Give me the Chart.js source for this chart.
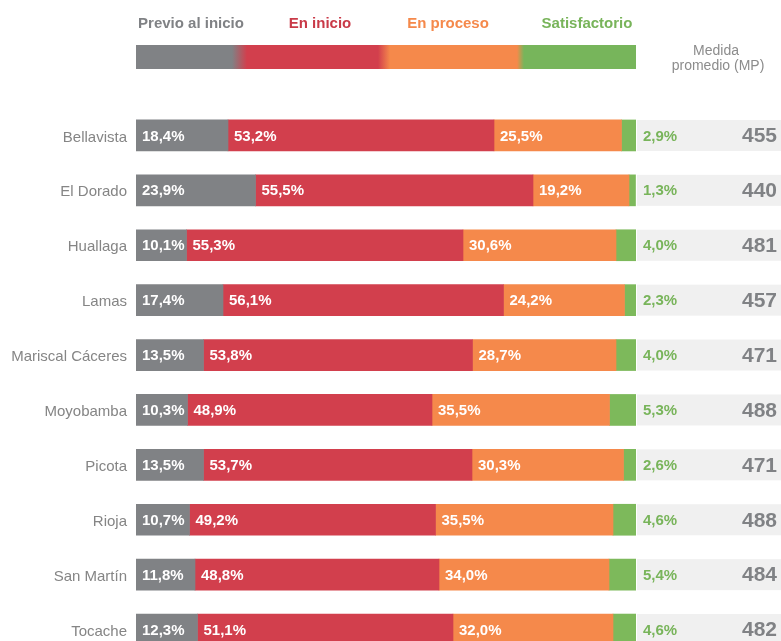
<!DOCTYPE html>
<html>
<head>
<meta charset="utf-8">
<script src="https://cdn.jsdelivr.net/npm/chart.js@4"></script>
<style>
  html, body { margin: 0; padding: 0; background: #fff; overflow: hidden; }
  #wrap { width: 781px; height: 675px; }
</style>
</head>
<body>
<div id="wrap"><canvas id="chart" width="781" height="675"></canvas></div>
<script>
document.addEventListener('DOMContentLoaded', () => {
    const categories = ['Bellavista', 'El Dorado', 'Huallaga', 'Lamas', 'Mariscal Cáceres',
                        'Moyobamba', 'Picota', 'Rioja', 'San Martín', 'Tocache'];
    const previo = [18.4, 23.9, 10.1, 17.4, 13.5, 10.3, 13.5, 10.7, 11.8, 12.3];
    const enInicio = [53.2, 55.5, 55.3, 56.1, 53.8, 48.9, 53.7, 49.2, 48.8, 51.1];
    const enProceso = [25.5, 19.2, 30.6, 24.2, 28.7, 35.5, 30.3, 35.5, 34.0, 32.0];
    const satisfactorio = [2.9, 1.3, 4.0, 2.3, 4.0, 5.3, 2.6, 4.6, 5.4, 4.6];
    const medidaPromedio = [455, 440, 481, 457, 471, 488, 471, 488, 484, 482];

    const seriesNames = ['Previo al inicio', 'En inicio', 'En proceso', 'Satisfactorio'];
    const seriesColors = ['#808285', '#d23f4d', '#f5894b', '#7db95b'];
    const legendColors = ['#808285', '#c93a48', '#f5894b', '#78b45a'];

    const FONT = '"Liberation Sans", Arial, Helvetica, sans-serif';

    const fmt = v => v.toFixed(1).replace('.', ',') + '%';

    const overlay = {
        id: 'overlay',
        beforeDatasetsDraw(chart) {
            const { ctx, scales: { x } } = chart;
            const x0 = x.getPixelForValue(100) + 1;
            ctx.save();
            ctx.fillStyle = '#f0f0f0';
            chart.getDatasetMeta(0).data.forEach(bar => {
                const p = bar.getProps(['y', 'height'], true);
                ctx.fillRect(x0, p.y - p.height / 2, chart.width - x0, p.height);
            });
            ctx.restore();
        },
        afterDatasetsDraw(chart) {
            const { ctx, scales: { x } } = chart;
            ctx.save();
            ctx.textBaseline = 'middle';
            // white labels inside the first three segments
            ctx.fillStyle = '#fff';
            ctx.font = 'bold 15px ' + FONT;
            ctx.textAlign = 'left';
            for (let d = 0; d < 3; d++) {
                const meta = chart.getDatasetMeta(d);
                meta.data.forEach((bar, i) => {
                    const p = bar.getProps(['x', 'y', 'base'], true);
                    const left = Math.min(p.x, p.base);
                    ctx.fillText(fmt(chart.data.datasets[d].data[i]), left + 6, p.y + 1);
                });
            }
            // green share and mean score in the grey panel
            const x0 = x.getPixelForValue(100);
            chart.getDatasetMeta(3).data.forEach((bar, i) => {
                const p = bar.getProps(['y'], true);
                ctx.fillStyle = '#78b45a';
                ctx.font = 'bold 15px ' + FONT;
                ctx.textAlign = 'left';
                ctx.fillText(fmt(satisfactorio[i]), x0 + 7, p.y + 1);
                ctx.fillStyle = '#808285';
                ctx.font = 'bold 21px ' + FONT;
                ctx.textAlign = 'right';
                ctx.fillText(String(medidaPromedio[i]), chart.width - 4, p.y + 1);
            });
            ctx.restore();
        },
        afterDraw(chart) {
            const { ctx, scales: { x } } = chart;
            const xl = x.getPixelForValue(0);
            const xr = x.getPixelForValue(100);
            ctx.save();
            // legend gradient bar
            const g = ctx.createLinearGradient(xl, 0, xr, 0);
            g.addColorStop(0, seriesColors[0]);
            g.addColorStop(0.192, seriesColors[0]);
            g.addColorStop(0.222, seriesColors[1]);
            g.addColorStop(0.484, seriesColors[1]);
            g.addColorStop(0.508, seriesColors[2]);
            g.addColorStop(0.762, seriesColors[2]);
            g.addColorStop(0.776, '#77b55b');
            g.addColorStop(1, '#77b55b');
            ctx.fillStyle = g;
            ctx.fillRect(xl, 45, xr - xl, 24);

            // legend titles
            ctx.font = 'bold 15px ' + FONT;
            ctx.textBaseline = 'middle';
            const legendCenters = [191, 320, 448, 587];
            seriesNames.forEach((name, i) => {
                ctx.fillStyle = legendColors[i];
                ctx.textAlign = 'center';
                ctx.fillText(name, legendCenters[i], 24);
            });

            // MP header
            ctx.fillStyle = '#8c8c8c';
            ctx.font = '14px ' + FONT;
            ctx.textAlign = 'center';
            ctx.fillText('Medida', 716, 51);
            ctx.fillText('promedio (MP)', 718, 66);
            ctx.restore();
        }
    };

    new Chart(document.getElementById('chart'), {
        type: 'bar',
        data: {
            labels: categories,
            datasets: [previo, enInicio, enProceso, satisfactorio].map((vals, i) => ({
                label: seriesNames[i],
                data: vals,
                backgroundColor: seriesColors[i],
                borderWidth: 0,
                barThickness: 31,
            }))
        },
        options: {
            indexAxis: 'y',
            responsive: false,
            animation: false,
            layout: { padding: { top: 108, right: 145, bottom: 5, left: 0 } },
            plugins: {
                legend: { display: false },
                tooltip: { enabled: false }
            },
            scales: {
                x: { stacked: true, min: 0, max: 100, display: false },
                y: {
                    stacked: true,
                    grid: { display: false, drawTicks: false },
                    border: { display: false },
                    ticks: { color: '#858585', padding: 9, labelOffset: 2, font: { size: 15, family: FONT } },
                    afterFit(scale) { scale.width = 136; }
                }
            }
        },
        plugins: [overlay]
    });
});
</script>
</body>
</html>
